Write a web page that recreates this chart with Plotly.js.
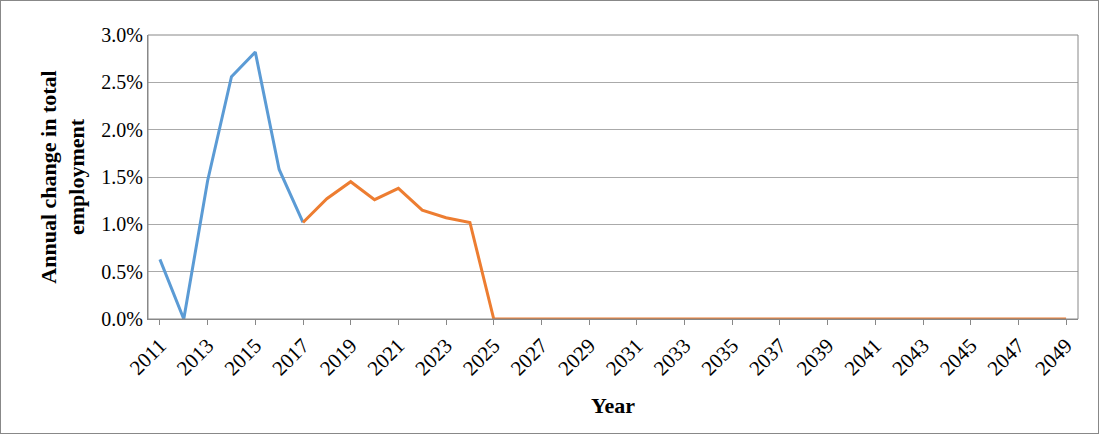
<!DOCTYPE html><html><head><script src="https://cdn.plot.ly/plotly-3.0.1.min.js"></script>
<style>body{margin:0}#c{width:1099px;height:434px;box-sizing:border-box;border:1px solid #888}</style></head><body><div id="c"></div><script>
const years=[];for(let y=2011;y<=2049;y++)years.push(String(y));
const histYears=["2011","2012","2013","2014","2015","2016","2017"];
const histVals=[0.0063,0.0,0.0146,0.0256,0.0282,0.0158,0.0102];
const projYears=years.slice(6);
const projVals=[0.0102,0.0127,0.0145,0.0126,0.0138,0.0115,0.0107,0.0102].concat(new Array(25).fill(0));
const tickLabels=years.filter((y,i)=>i%2===0);
const F='Liberation Serif, serif';
Plotly.newPlot('c',[
{x:histYears,y:histVals,mode:'lines',line:{color:'#5B9BD5',width:3},hoverinfo:'skip'},
{x:projYears,y:projVals,mode:'lines',line:{color:'#ED7D31',width:3},hoverinfo:'skip'}
],{width:1097,height:432,margin:{l:147,r:20,t:34,b:114},showlegend:false,
paper_bgcolor:'white',plot_bgcolor:'white',
font:{family:F,size:20,color:'#000'},
xaxis:{type:'category',categoryorder:'array',categoryarray:years,range:[-0.5,38.5],tickvals:tickLabels,ticktext:tickLabels,tickangle:-45,
tickfont:{family:F,size:21},
showline:true,linecolor:'#888',showgrid:false,ticks:'outside',ticklen:5,tickcolor:'#888',
title:{text:'<b>Year</b>',font:{family:F,size:22},standoff:18}},
yaxis:{range:[0,0.03],tickvals:[0,0.005,0.01,0.015,0.02,0.025,0.03],tickformat:'.1%',tickfont:{family:F,size:20},gridcolor:'#aaa',showline:true,linecolor:'#888',zeroline:false,ticks:'',
title:{text:'<b>Annual change in total<br>employment</b>',font:{family:F,size:22},standoff:10}},
shapes:[{type:'rect',xref:'paper',yref:'paper',x0:0,x1:1,y0:0,y1:1,line:{color:'#888',width:1}}]
},{staticPlot:true});
</script></body></html>
